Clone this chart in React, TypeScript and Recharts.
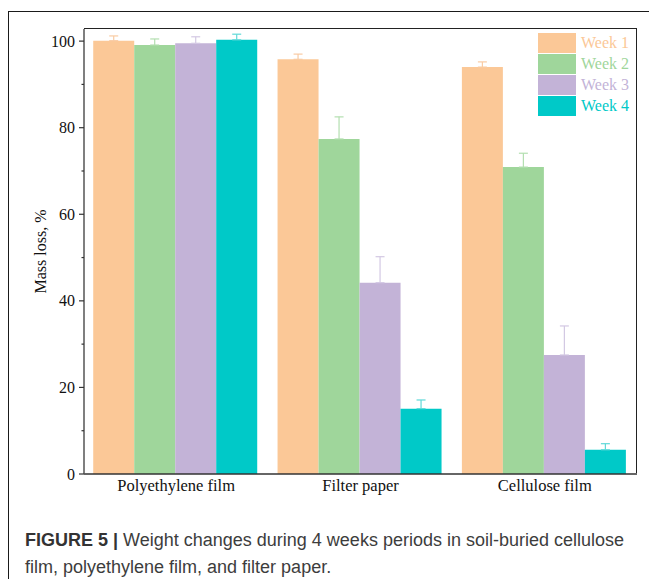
import React from "react";
import { Bar, BarChart, ErrorBar, XAxis, YAxis } from "recharts";

const categories = ["Polyethylene film", "Filter paper", "Cellulose film"];
const week1 = [100.1, 95.8, 94.0];
const week1Err = [1.1, 1.2, 1.2];
const week2 = [99.1, 77.4, 70.9];
const week2Err = [1.4, 5.1, 3.2];
const week3 = [99.5, 44.2, 27.5];
const week3Err = [1.5, 6.0, 6.7];
const week4 = [100.3, 15.1, 5.6];
const week4Err = [1.3, 2.0, 1.4];
const yTicks = [0, 10, 20, 30, 40, 50, 60, 70, 80, 90, 100];

const weeks = [
  { key: "w1", name: "Week 1", values: week1, errs: week1Err, color: "#fbc897", err: "#f9cba3" },
  { key: "w2", name: "Week 2", values: week2, errs: week2Err, color: "#9fd69b", err: "#b3dfb0" },
  { key: "w3", name: "Week 3", values: week3, errs: week3Err, color: "#c3b3d7", err: "#d3c8e3" },
  { key: "w4", name: "Week 4", values: week4, errs: week4Err, color: "#00c9c8", err: "#5fd9d8" },
];

const data = categories.map((name, i) => {
  const row: Record<string, any> = { name };
  weeks.forEach((w) => {
    row[w.key] = w.values[i];
    row[w.key + "e"] = [0, w.errs[i]];
  });
  return row;
});

const serif = "'Liberation Serif', 'Times New Roman', serif";
const axisColor = "#333";

// chart box: plot area runs 84..637 x, 29..474 y
const margin = { top: 29, right: 20, left: 0, bottom: 0 };
const chartW = 657;
const chartH = 510;
const yAxisW = 84;
const xAxisH = 36;

function YTick({ x, y, payload }: any) {
  const major = payload.value % 20 === 0;
  return (
    <g>
      <line x1={x + (major ? 3 : 5.5)} x2={x + 8} y1={y} y2={y} stroke={axisColor} strokeWidth={1.2} />
      {major && (
        <text x={x - 1} y={y} dy={5.5} textAnchor="end" fontFamily={serif} fontSize={16} fill="#111">
          {payload.value}
        </text>
      )}
    </g>
  );
}

export default function App() {
  return (
    <div style={{ position: "relative", margin: -8, width: 657, height: 587, overflow: "hidden", background: "#fff" }}>
      <div
        style={{
          position: "absolute",
          left: 8,
          top: 11,
          width: 700,
          height: 700,
          borderLeft: "1.5px solid #1a1a1a",
          borderTop: "1.5px solid #1a1a1a",
        }}
      />
      <div style={{ position: "absolute", left: 0, top: 0 }}>
        <BarChart
          width={chartW}
          height={chartH}
          data={data}
          margin={margin}
          barCategoryGap="5%"
          barGap={0}
        >
          <XAxis
            dataKey="name"
            height={xAxisH}
            tickLine={false}
            tickSize={0}
            tickMargin={5}
            axisLine={{ stroke: axisColor, strokeWidth: 1.5 }}
            tick={{ fontFamily: serif, fontSize: 16.5, fill: "#111" }}
          />
          <YAxis
            width={yAxisW}
            domain={[0, 102.8]}
            ticks={yTicks}
            interval={0}
            tickSize={5}
            tickMargin={3}
            tickLine={false}
            tick={<YTick />}
            axisLine={{ stroke: "#555", strokeWidth: 1.5 }}
            label={{
              value: "Mass loss, %",
              angle: -90,
              position: "center",
              dx: -2,
              style: { fontFamily: serif, fontSize: 16, fill: "#111" },
            }}
          />
          {weeks.map((w) => (
            <Bar key={w.key} dataKey={w.key} name={w.name} fill={w.color} isAnimationActive={false}>
              <ErrorBar dataKey={w.key + "e"} direction="y" width={4.5} stroke={w.err} strokeWidth={1.2} />
            </Bar>
          ))}
        </BarChart>
      </div>
      {/* top and right frame of the plot area */}
      <div
        style={{
          position: "absolute",
          left: yAxisW,
          top: margin.top - 1,
          width: chartW - margin.right - yAxisW,
          height: chartH - xAxisH - margin.top,
          borderTop: "1.5px solid #222",
          borderRight: "1.5px solid #222",
          boxSizing: "border-box",
          pointerEvents: "none",
        }}
      />
      <div style={{ position: "absolute", left: 538, top: 32 }}>
        {weeks.map((w) => (
          <div key={w.key} style={{ display: "flex", alignItems: "center", height: 21 }}>
            <div style={{ width: 38, height: 20, background: w.color }} />
            <span style={{ marginLeft: 5, fontFamily: serif, fontSize: 16, color: w.color, lineHeight: "21px" }}>
              {w.name}
            </span>
          </div>
        ))}
      </div>
      <div
        style={{
          position: "absolute",
          left: 25,
          top: 527,
          fontFamily: "'Liberation Sans', Arial, sans-serif",
          fontSize: 18,
          lineHeight: "27px",
          color: "#3d3d3d",
          whiteSpace: "nowrap",
        }}
      >
        <b style={{ color: "#333" }}>FIGURE 5 |</b> Weight changes during 4 weeks periods in soil-buried cellulose
        <br />
        film, polyethylene film, and filter paper.
      </div>
    </div>
  );
}
